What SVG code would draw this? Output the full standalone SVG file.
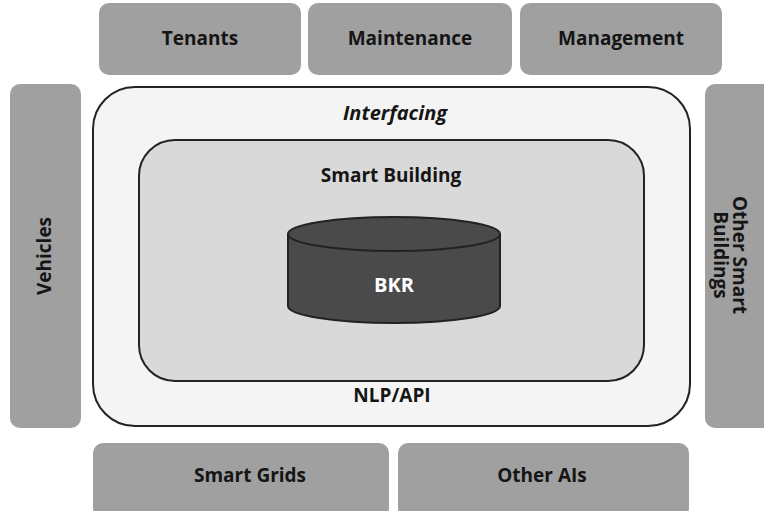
<svg xmlns="http://www.w3.org/2000/svg" width="764" height="511" viewBox="0 0 764 511">
<style>
.box{fill:#a0a0a0;}
.lbl{font-family:"Open Sans","Liberation Sans",sans-serif;font-weight:700;font-size:19px;fill:#151515;text-anchor:middle;dominant-baseline:central;}
.edge{stroke:#222;stroke-width:2;}
</style>
<rect width="764" height="511" fill="#ffffff"/>
<g id="tenants"><rect class="box" x="99" y="3" width="202" height="72" rx="10"/><text class="lbl" x="200" y="38">Tenants</text></g>
<g id="maintenance"><rect class="box" x="308" y="3" width="204" height="72" rx="10"/><text class="lbl" x="410" y="38">Maintenance</text></g>
<g id="management"><rect class="box" x="520" y="3" width="202" height="72" rx="10"/><text class="lbl" x="621" y="38">Management</text></g>
<g id="vehicles"><rect class="box" x="10" y="84" width="71" height="344" rx="10"/><text class="lbl" transform="translate(44 256) rotate(-90)">Vehicles</text></g>
<g id="other-smart-buildings"><rect class="box" x="705" y="84" width="70" height="344" rx="10"/><text class="lbl" transform="translate(731 255) rotate(90)"><tspan x="0" dy="-9">Other Smart</tspan><tspan x="0" dy="19">Buildings</tspan></text></g>
<g id="interfacing"><rect x="93" y="87" width="597" height="339" rx="42" fill="#f4f4f4" class="edge"/><text class="lbl" x="395" y="112" style="font-style:italic;font-size:20px">Interfacing</text><text class="lbl" x="392" y="395">NLP/API</text></g>
<g id="smart-building"><rect x="139" y="140" width="505" height="241" rx="36" fill="#d9d9d9" class="edge"/><text class="lbl" x="391" y="175">Smart Building</text></g>
<g id="bkr"><path d="M288 234 L288 306 A106 17 0 0 0 500 306 L500 234" fill="#4a4a4a" class="edge"/><ellipse cx="394" cy="234" rx="106" ry="17" fill="#4a4a4a" class="edge"/><text class="lbl" x="394" y="284" style="fill:#fff;font-size:20px">BKR</text></g>
<g id="smart-grids"><rect class="box" x="93" y="443" width="296" height="75" rx="10"/><text class="lbl" x="250" y="475">Smart Grids</text></g>
<g id="other-ais"><rect class="box" x="398" y="443" width="291" height="75" rx="10"/><text class="lbl" x="542" y="475">Other AIs</text></g>
<g id="connectors"></g>
</svg>
